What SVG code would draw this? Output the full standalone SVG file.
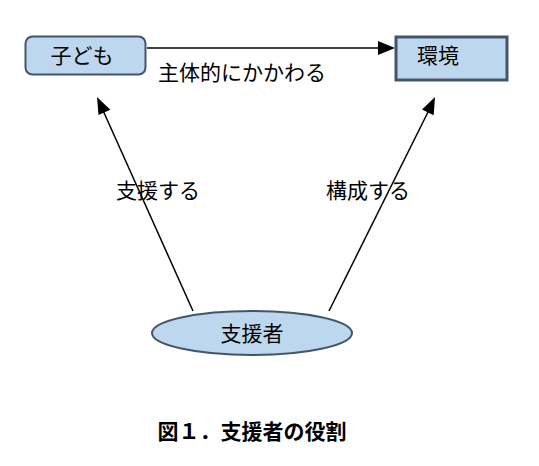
<svg xmlns="http://www.w3.org/2000/svg" width="539" height="466" viewBox="0 0 539 466">
<defs>
<style>
text{font-family:"Noto Sans CJK JP","Noto Sans CJK SC",sans-serif;fill:#000;}
.n{font-size:21px;}
.node{fill:#BDD7EE;stroke:#44546A;}
.c{stroke:#000;stroke-width:1.5;fill:none;}
.h{fill:#000;}
</style>
</defs>
<rect width="539" height="466" fill="#fff"/>
<g id="connectors">
<line class="c" x1="147" y1="48" x2="382" y2="48"/>
<path class="h" d="M378,41L395,48L378,55z"/>
<line class="c" x1="193" y1="311" x2="101" y2="106"/>
<path class="h" d="M97,97L104,114L91,114z" transform="rotate(-24.2 97 97)"/>
<line class="c" x1="329" y1="311" x2="431" y2="106"/>
<path class="h" d="M435,97L442,114L429,114z" transform="rotate(26.5 435 97)"/>
</g>
<g id="label-main"><text class="n" x="158" y="80">主体的にかかわる</text></g>
<g id="label-support"><text class="n" x="116" y="198">支援する</text></g>
<g id="label-compose"><text class="n" x="326" y="198">構成する</text></g>
<g id="node-child">
<rect class="node" x="25.5" y="36.5" width="120" height="38" rx="7" stroke-width="2"/>
<text class="n" x="82" y="63" text-anchor="middle">子ども</text>
</g>
<g id="node-env">
<rect class="node" x="396" y="37" width="111" height="43" stroke-width="3"/>
<text class="n" x="438" y="63" text-anchor="middle">環境</text>
</g>
<g id="node-supporter">
<ellipse class="node" cx="252" cy="333" rx="100" ry="22" stroke-width="2"/>
<text class="n" x="252" y="341" text-anchor="middle">支援者</text>
</g>
<g id="caption"><text x="252" y="439" text-anchor="middle" font-size="21" font-weight="bold">図１．支援者の役割</text></g>
</svg>
